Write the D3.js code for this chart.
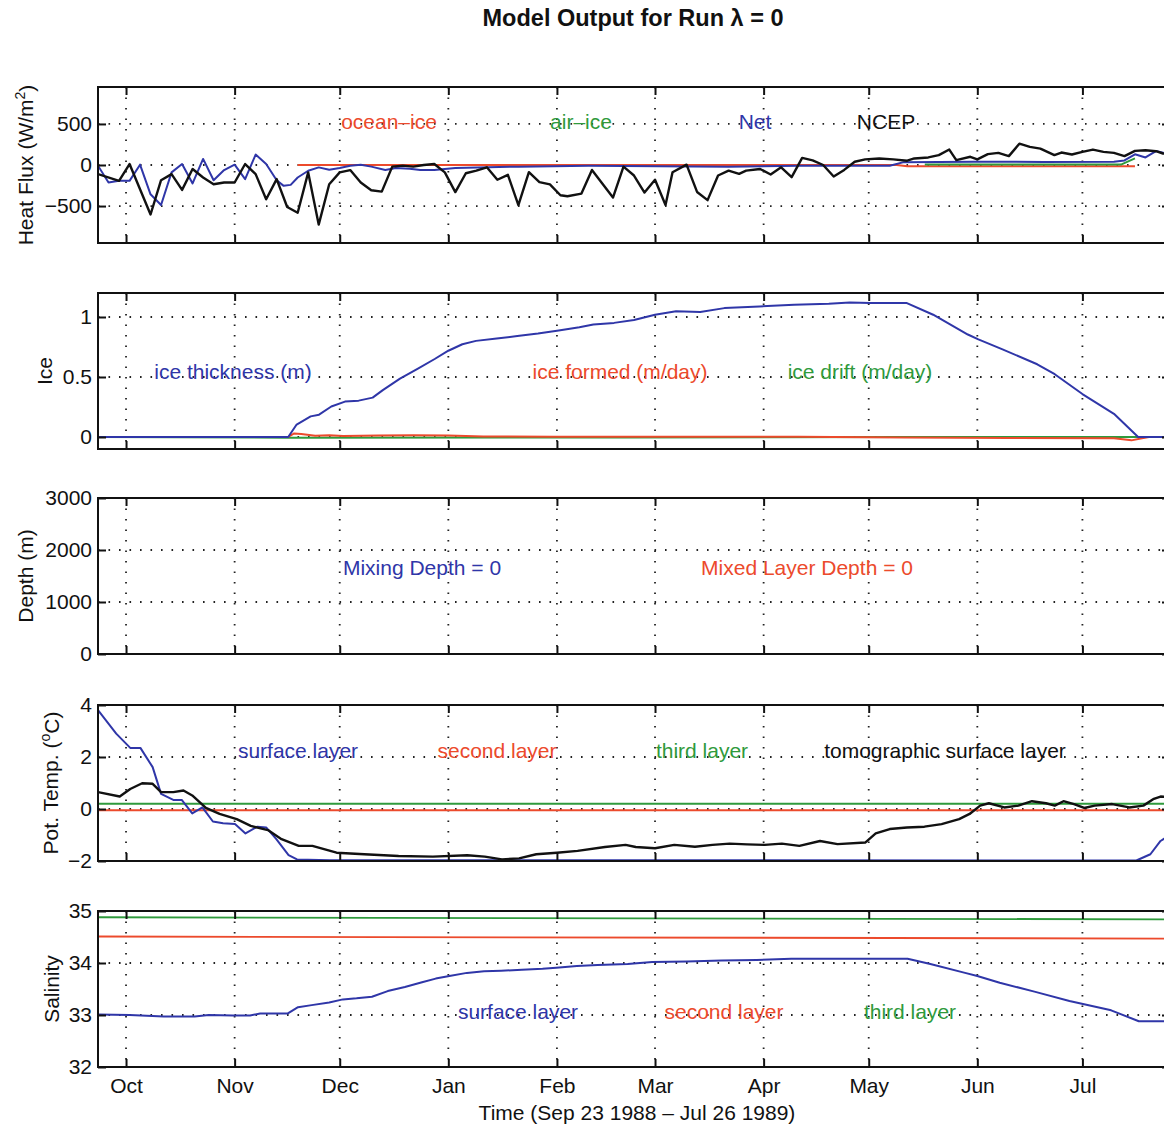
<!DOCTYPE html>
<html>
<head>
<meta charset="utf-8">
<script src="https://cdn.jsdelivr.net/npm/d3@7"></script>
<style>
  body { margin: 0; background: #fff; }
  text { font-family: "Liberation Sans", Arial, sans-serif; }
</style>
</head>
<body>
<div id="chart"></div>
<script>
// time axis: days since Sep 23 1988
var startDate = new Date(Date.UTC(1988, 8, 23));
var endDate = new Date(Date.UTC(1989, 6, 26));

// heat flux (W/m2), [day, value]
var ncepFlux = [[0,-111],[6,-193],[9,12],[15,-603],[18,-185],[21,-111],[24,-303],[27,-49],[30,-152],[33,-234],[36,-213],[39,-213],[42,12],[45,-111],[48,-418],[51,-172],[54,-512],[57,-582],[60,-90],[63,-726],[66,-234],[69,-90],[72,-62],[75,-213],[78,-308],[81,-324],[84,-20],[87,-8],[90,-20],[93,0],[96,12],[99,-90],[102,-330],[105,-100],[108,-68],[111,-28],[114,-180],[117,-120],[120,-488],[123,-88],[126,-208],[129,-236],[132,-368],[134,-380],[138,-348],[141,-60],[144,-228],[147,-396],[150,-20],[153,-128],[156,-336],[159,-180],[162,-488],[164,-88],[168,4],[171,-328],[174,-428],[177,-128],[180,-68],[183,-108],[185,-68],[189,-48],[192,-116],[195,-28],[198,-148],[201,86],[204,56],[207,0],[210,-140],[213,-60],[216,40],[219,68],[223,80],[227,68],[231,52],[233,80],[237,92],[240,120],[243,188],[245,60],[249,100],[251,68],[254,132],[257,148],[260,108],[263,260],[266,220],[269,200],[273,120],[275,152],[278,128],[281,160],[284,188],[287,160],[290,148],[293,108],[296,172],[299,180],[302,168],[304,140],[306,130]];
var netFlux = [[0,-8],[3,-213],[6,-193],[9,-193],[12,4],[15,-357],[18,-488],[21,-90],[24,12],[27,-225],[30,74],[33,-185],[36,-62],[39,4],[42,-172],[45,127],[48,12],[51,-185],[53,-254],[55,-242],[57,-152],[60,-70],[63,-29],[66,-57],[69,-37],[72,-8],[75,4],[78,-20],[82,-62],[85,-37],[89,-45],[92,-62],[96,-62],[102,-37],[120,-20],[140,-10],[160,-15],[180,-20],[200,-10],[226,-10],[230,35],[250,40],[270,38],[290,40],[293,55],[296,130],[299,92],[302,170],[304,150],[306,130]];
var oceanIceFlux = [[57,0],[228,0],[231,-15],[296,-15]];
var airIceFlux = [[236,5],[292,5],[296,80]];

// ice (m, m/day)
var iceThickness = [[0,0],[54.3,0],[56.7,0.104],[60.7,0.172],[63.1,0.186],[66.6,0.254],[70.5,0.295],[74.4,0.303],[78.4,0.328],[81.3,0.391],[86.2,0.486],[91.2,0.568],[96.1,0.65],[100,0.719],[104,0.773],[107.9,0.801],[113.8,0.82],[119.7,0.842],[125.6,0.863],[131.5,0.888],[137.4,0.915],[141.4,0.937],[147.3,0.951],[153,0.975],[159,1.019],[165,1.047],[171.9,1.041],[178.8,1.074],[188.8,1.088],[198.7,1.102],[208.6,1.11],[214.6,1.121],[220.5,1.116],[230.9,1.116],[238.4,1.019],[248.3,0.854],[251.3,0.813],[258.2,0.73],[268.1,0.606],[273.1,0.523],[281,0.358],[290,0.193],[296.9,0],[306,0]];
var iceFormed = [[0,0],[54.3,0],[56,0.03],[58,0.025],[62,0.01],[66,0.015],[70,0.008],[80,0.012],[90,0.015],[100,0.012],[110,0.005],[130,0.003],[160,0.002],[200,0.002],[230,-0.005],[260,-0.008],[290,-0.01],[295,-0.028],[298,-0.01],[300,0],[306,0]];
var iceDrift = [[0,0],[54,-0.006],[150,-0.004],[230,0],[290,0],[296,0],[306,0]];

// depth (m)
var mixingDepth = [[0,0],[306,0]];
var mixedLayerDepth = [[0,0],[306,0]];

// potential temperature (C)
var tempSurface = [[0,3.8],[5.2,2.9],[9.2,2.35],[12.1,2.35],[15.6,1.61],[18,0.58],[21.5,0.35],[23.9,0.35],[26.9,-0.17],[29.8,0.06],[32.8,-0.48],[35.7,-0.55],[39.1,-0.58],[42.1,-0.94],[45.5,-0.68],[48,-0.71],[50.9,-1.16],[54.4,-1.77],[56.8,-1.94],[66.2,-1.97],[296.4,-1.98],[300.4,-1.74],[303.3,-1.23],[306,-1.0]];
var tempSecond = [[0,-0.05],[306,-0.05]];
var tempThird = [[0,0.2],[306,0.2]];
var tempTomo = [[0,0.65],[6.2,0.48],[9.2,0.77],[12.6,0.99],[15.6,0.97],[18,0.65],[21.5,0.65],[24.4,0.71],[26.9,0.52],[30.8,0.04],[34.7,-0.19],[39.6,-0.39],[43.6,-0.65],[48.5,-0.81],[52.4,-1.16],[57.3,-1.42],[61.2,-1.42],[68.1,-1.68],[76,-1.74],[85.8,-1.81],[95.6,-1.83],[105.4,-1.78],[110.4,-1.83],[115.3,-1.94],[120.2,-1.9],[125.1,-1.74],[131,-1.68],[136.9,-1.61],[144.7,-1.46],[150.6,-1.38],[153.5,-1.46],[159,-1.51],[164.5,-1.38],[170.4,-1.45],[175.4,-1.38],[180.3,-1.33],[185.3,-1.36],[190.3,-1.38],[195.2,-1.33],[200.2,-1.42],[206.1,-1.23],[211.1,-1.35],[219,-1.29],[222,-0.94],[226,-0.77],[230.9,-0.71],[235.9,-0.68],[240.8,-0.58],[245.8,-0.39],[248.8,-0.19],[251.8,0.13],[254.3,0.22],[258.7,0.06],[262.7,0.13],[266.6,0.3],[270.6,0.22],[273.1,0.13],[275.6,0.3],[278.6,0.19],[281.5,0.04],[284.5,0.13],[289.5,0.19],[294.4,0.06],[298.4,0.13],[301.4,0.39],[303.3,0.48],[306,0.45]];

// salinity
var salSurface = [[0,33.01],[9,33.0],[18.8,32.97],[27.6,32.97],[31.6,33.0],[38.5,32.99],[43.4,32.99],[46.3,33.03],[54.2,33.03],[57.1,33.15],[61,33.19],[66,33.24],[69.9,33.3],[73.8,33.32],[78.2,33.35],[82.7,33.46],[87.6,33.54],[92.5,33.63],[96.4,33.7],[100.3,33.75],[105.3,33.81],[110.2,33.84],[115.1,33.85],[121,33.87],[126.9,33.89],[130.8,33.91],[136.7,33.94],[142.6,33.96],[151.2,33.98],[158.2,34.02],[168.1,34.03],[178,34.05],[188,34.06],[197.9,34.08],[207.8,34.08],[217.7,34.08],[231.1,34.08],[237.6,33.98],[247.5,33.81],[251,33.75],[257.4,33.62],[267.3,33.45],[277.3,33.27],[289.2,33.09],[297.1,32.88],[306,32.88]];
var salSecond = [[0,34.51],[306,34.47]];
var salThird = [[0,34.88],[306,34.84]];

var heatTicks = [500, 0, -500];
var iceTicks = [1, 0.5, 0];
var depthTicks = [3000, 2000, 1000, 0];
var tempTicks = [4, 2, 0, -2];
var salTicks = [35, 34, 33, 32];

var BLUE = "#2f36a8", RED = "#ec4a2c", GREEN = "#2f9a3c", BLACK = "#111";

var width = 1164, height = 1129;
var left = 98, right = 1170, panelH = 156;
var FS = 21;

var svg = d3.select("#chart").append("svg")
    .attr("width", width)
    .attr("height", height);

var x = d3.scaleUtc().domain([startDate, endDate]).range([left, right]);
function dayDate(d) { return new Date(startDate.getTime() + d * 864e5); }
var months = d3.utcMonth.range(d3.utcMonth.ceil(startDate), endDate);

var panels = [
  { top: 87, domain: [-950, 950], ticks: heatTicks, fmt: d3.format("d"), label: ["Heat Flux (W/m", "2", ")"], labelX: 26,
    series: [[oceanIceFlux, RED, 2], [airIceFlux, GREEN, 2], [netFlux, BLUE, 2], [ncepFlux, BLACK, 2.4]],
    notes: [["ocean\u2013ice", 389, RED], ["air\u2013ice", 581, GREEN], ["Net", 755, BLUE], ["NCEP", 886, BLACK]], noteY: 129 },
  { top: 293, domain: [-0.1, 1.2], ticks: iceTicks, fmt: d3.format("~g"), label: ["Ice"], labelX: 45,
    series: [[iceDrift, GREEN, 2], [iceFormed, RED, 2], [iceThickness, BLUE, 2]],
    notes: [["ice thickness (m)", 233, BLUE], ["ice formed (m/day)", 620, RED], ["ice drift (m/day)", 860, GREEN]], noteY: 379 },
  { top: 498, domain: [0, 3000], ticks: depthTicks, fmt: d3.format("d"), label: ["Depth (m)"], labelX: 26,
    series: [[mixingDepth, BLUE, 2], [mixedLayerDepth, RED, 2]],
    notes: [["Mixing Depth = 0", 422, BLUE], ["Mixed Layer Depth = 0", 807, RED]], noteY: 575 },
  { top: 705, domain: [-2, 4], ticks: tempTicks, fmt: d3.format("d"), label: ["Pot. Temp. (", "o", "C)"], labelX: 51,
    series: [[tempThird, GREEN, 2], [tempSecond, RED, 2], [tempSurface, BLUE, 2], [tempTomo, BLACK, 2.4]],
    notes: [["surface layer", 298, BLUE], ["second layer", 497, RED], ["third layer", 702, GREEN], ["tomographic surface layer", 945, BLACK]], noteY: 758 },
  { top: 911, domain: [32, 35], ticks: salTicks, fmt: d3.format("d"), label: ["Salinity"], labelX: 52,
    series: [[salThird, GREEN, 1.8], [salSecond, RED, 1.8], [salSurface, BLUE, 2]],
    notes: [["surface layer", 518, BLUE], ["second layer", 724, RED], ["third layer", 910, GREEN]], noteY: 1019 }
];

svg.append("defs").append("clipPath").attr("id", "plotclip")
  .append("rect").attr("x", left).attr("y", 0).attr("width", right - left).attr("height", height);

panels.forEach(function(p, i) {
  var bottom = p.top + panelH;
  var y = d3.scaleLinear().domain(p.domain).range([bottom, p.top]);
  var g = svg.append("g");

  // dotted grid
  g.selectAll(".hg").data(p.ticks).enter().append("line")
    .attr("x1", left).attr("x2", right)
    .attr("y1", function(d) { return y(d); }).attr("y2", function(d) { return y(d); })
    .attr("stroke", "#222").attr("stroke-width", 1.8).attr("stroke-dasharray", "1.6,8.9");
  g.selectAll(".vg").data(months).enter().append("line")
    .attr("x1", function(d) { return x(d); }).attr("x2", function(d) { return x(d); })
    .attr("y1", p.top).attr("y2", bottom)
    .attr("stroke", "#222").attr("stroke-width", 1.8).attr("stroke-dasharray", "1.6,8.9");

  // in-plot labels
  g.selectAll(".note").data(p.notes).enter().append("text")
    .attr("x", function(d) { return d[1]; }).attr("y", p.noteY)
    .attr("text-anchor", "middle").attr("font-size", FS)
    .attr("fill", function(d) { return d[2]; })
    .text(function(d) { return d[0]; });

  // series
  var line = d3.line()
    .x(function(d) { return x(dayDate(d[0])); })
    .y(function(d) { return y(d[1]); });
  g.selectAll(".s").data(p.series).enter().append("path")
    .attr("clip-path", "url(#plotclip)")
    .attr("fill", "none")
    .attr("stroke", function(d) { return d[1]; })
    .attr("stroke-width", function(d) { return d[2]; })
    .attr("stroke-linejoin", "round")
    .attr("d", function(d) { return line(d[0]); });

  // axes, ticks pointing inward like matlab
  g.append("g").attr("transform", "translate(" + left + ",0)")
    .call(d3.axisLeft(y).tickValues(p.ticks).tickFormat(p.fmt).tickSize(-8).tickPadding(6));
  g.append("g").attr("transform", "translate(" + right + ",0)")
    .call(d3.axisRight(y).tickValues(p.ticks).tickFormat("").tickSize(-8));
  g.append("g").attr("transform", "translate(0," + p.top + ")")
    .call(d3.axisTop(x).tickValues(months).tickFormat("").tickSize(-8));
  g.append("g").attr("transform", "translate(0," + bottom + ")")
    .call(d3.axisBottom(x).tickValues(months).tickFormat(i === 4 ? d3.utcFormat("%b") : "").tickSize(-8).tickPadding(11));

  g.selectAll(".domain").remove();
  g.selectAll(".tick line").attr("stroke", BLACK).attr("stroke-width", 2);
  g.selectAll(".tick text").attr("font-size", FS).attr("fill", BLACK)
    .attr("font-family", "Liberation Sans, Arial, sans-serif");

  // frame
  g.append("rect").attr("x", left).attr("y", p.top)
    .attr("width", right - left).attr("height", panelH)
    .attr("fill", "none").attr("stroke", BLACK).attr("stroke-width", 2);

  // y label
  var lab = g.append("text")
    .attr("transform", "translate(" + p.labelX + "," + (p.top + panelH / 2) + ") rotate(-90)")
    .attr("text-anchor", "middle").attr("dy", "0.35em")
    .attr("font-size", FS).attr("fill", BLACK);
  lab.append("tspan").text(p.label[0]);
  if (p.label.length > 1) {
    lab.append("tspan").attr("font-size", 14).attr("dy", "-0.6em").text(p.label[1]);
    lab.append("tspan").attr("dy", "0.45em").text(p.label[2]);
  }
});

// title and x label
svg.append("text").attr("x", 633).attr("y", 26).attr("text-anchor", "middle")
  .attr("font-size", 23.5).attr("font-weight", "bold").attr("fill", BLACK)
  .text("Model Output for Run \u03bb = 0");
svg.append("text").attr("x", 637).attr("y", 1120).attr("text-anchor", "middle")
  .attr("font-size", FS).attr("fill", BLACK)
  .text("Time (Sep 23 1988 \u2013 Jul 26 1989)");
</script>
</body>
</html>
